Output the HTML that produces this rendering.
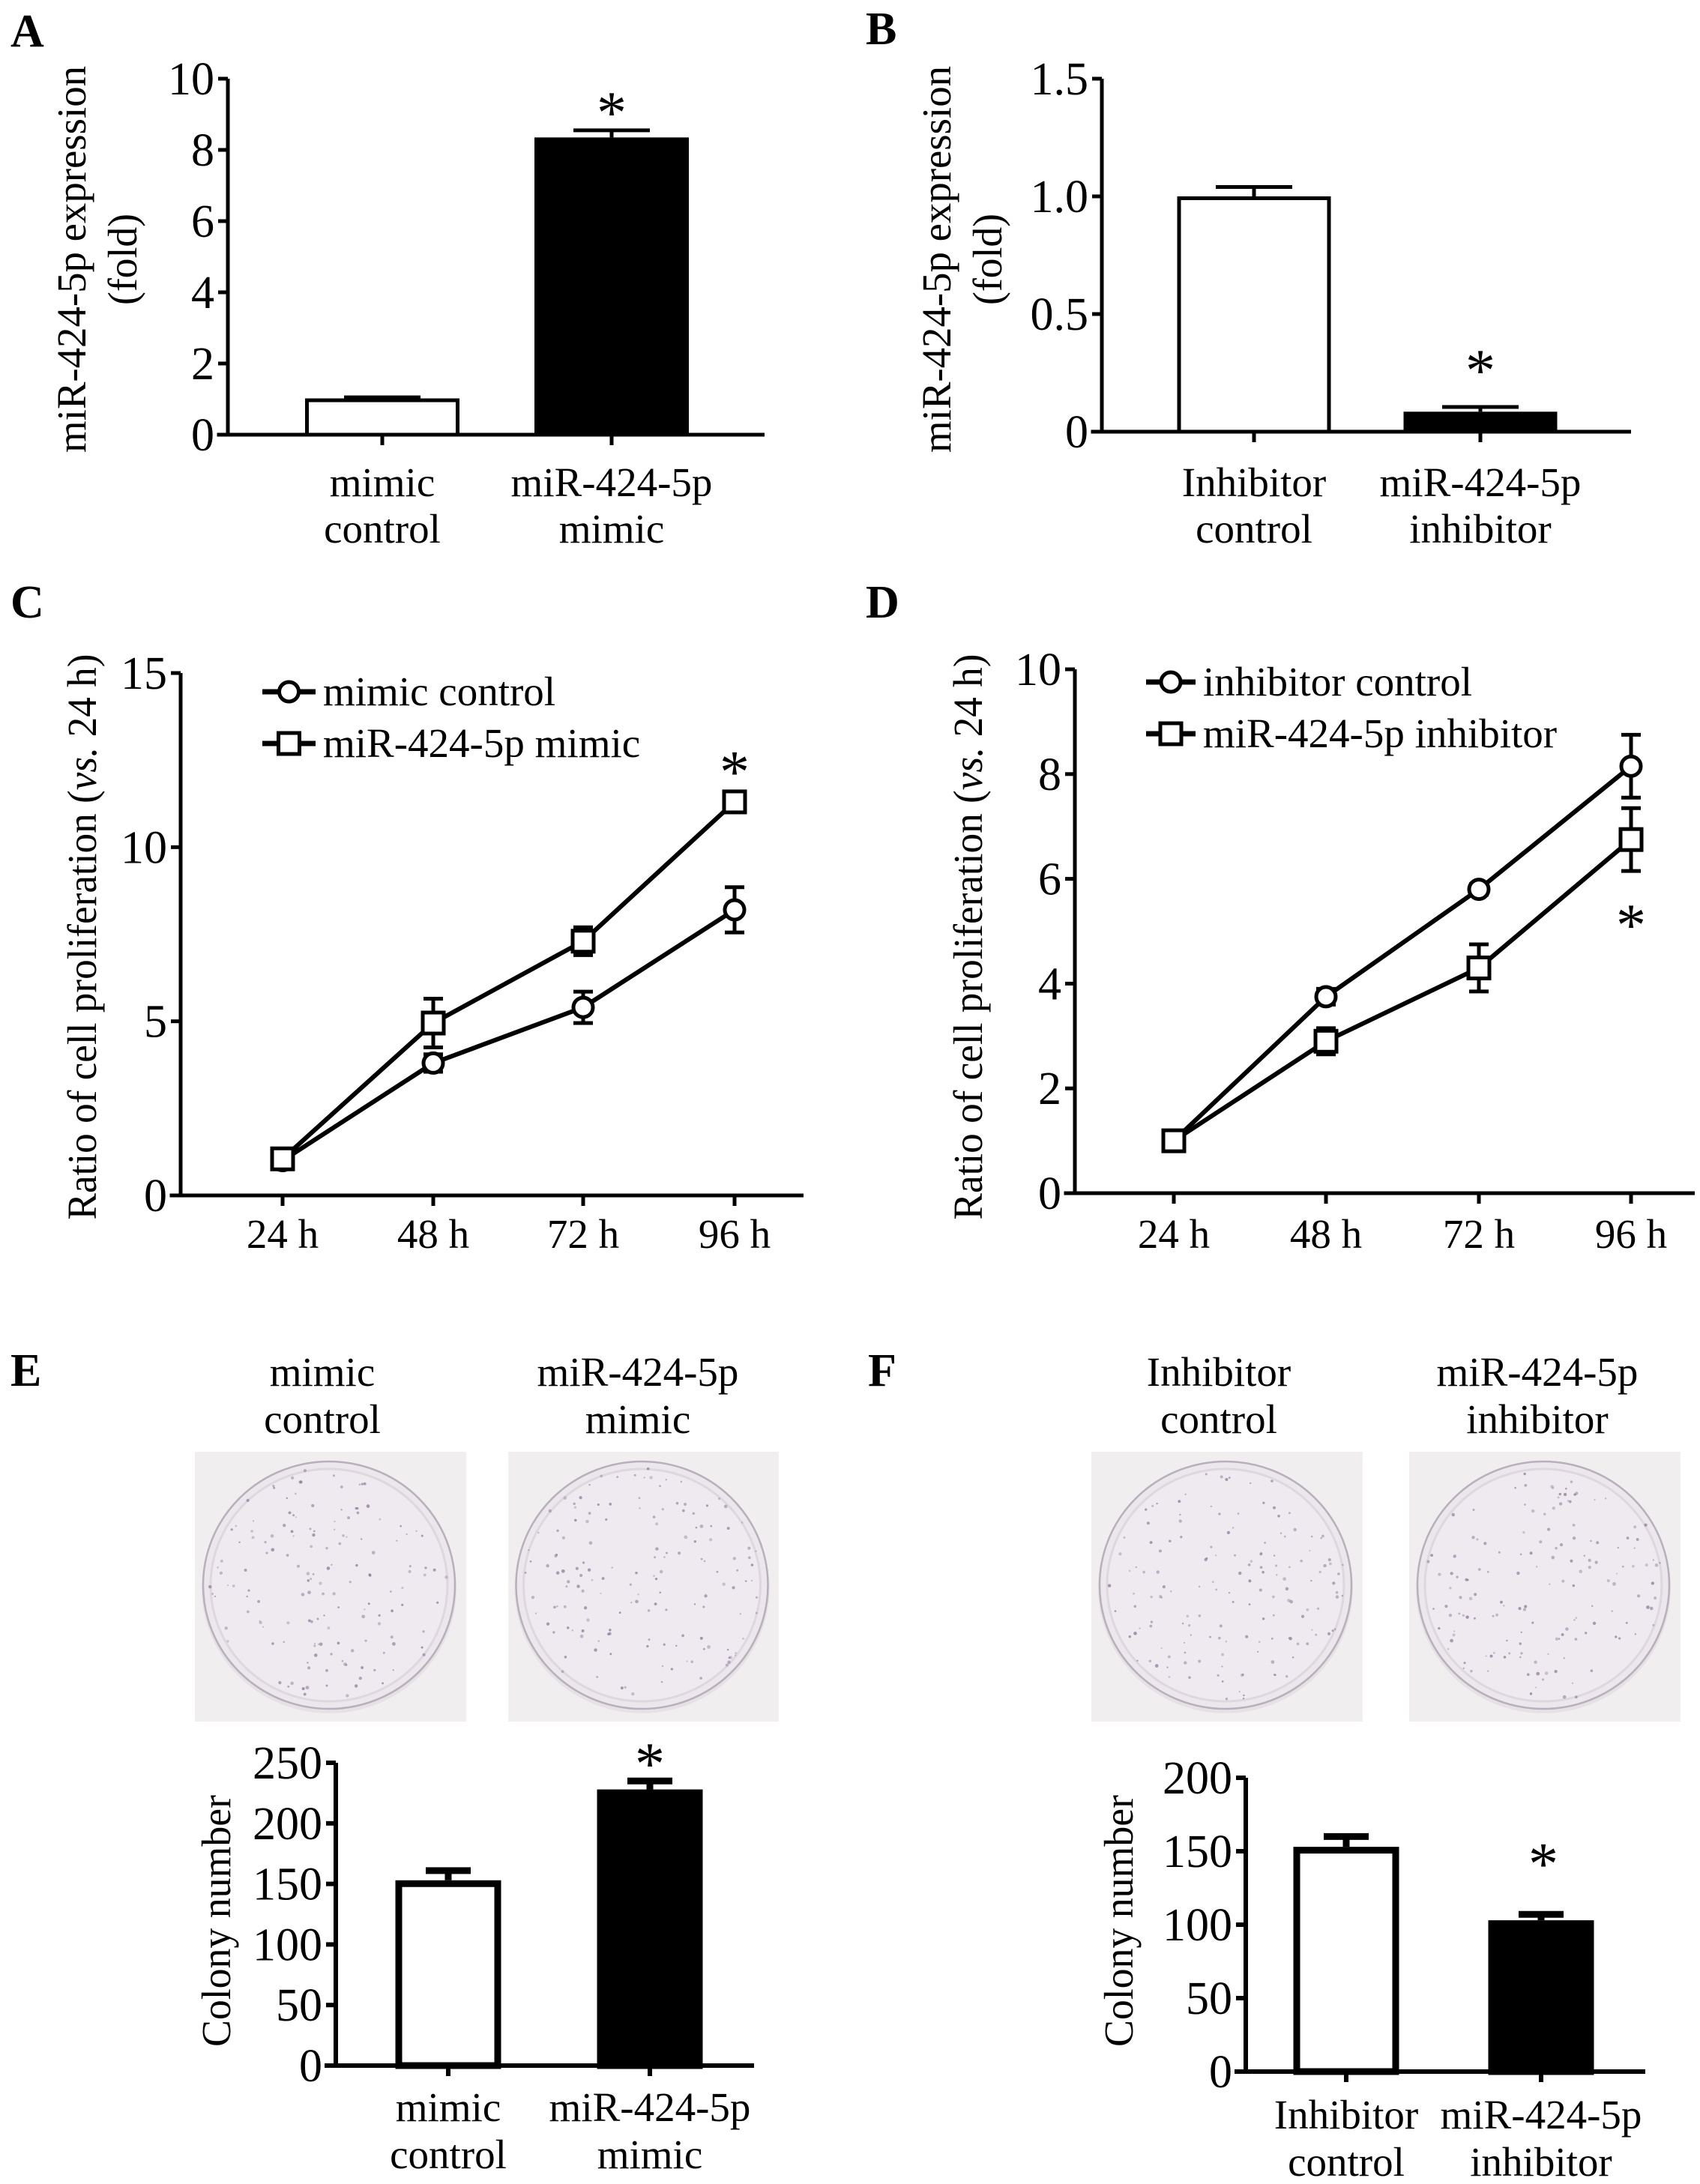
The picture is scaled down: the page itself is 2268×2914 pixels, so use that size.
<!DOCTYPE html>
<html><head><meta charset="utf-8"><style>
html,body{margin:0;padding:0;background:#fff;}
svg{display:block;}
text{font-family:"Liberation Serif",serif;fill:#000;}
</style></head><body>
<svg id="fig" width="2268" height="2914" viewBox="0 0 2268 2914" xmlns="http://www.w3.org/2000/svg"></svg>
<script>
// ---- data ----
const aCats = [["mimic","control"],["miR-424-5p","mimic"]];
const aVals = [1.02, 8.35];
const aErr = [0.03, 0.2];
const aTicks = [0,2,4,6,8,10];
const aTickLabels = ["0","2","4","6","8","10"];

const bCats = [["Inhibitor","control"],["miR-424-5p","inhibitor"]];
const bVals = [1.0, 0.085];
const bErr = [0.04, 0.02];
const bTicks = [0,0.5,1.0,1.5];
const bTickLabels = ["0","0.5","1.0","1.5"];

const cTimes = ["24 h","48 h","72 h","96 h"];
const cCtrl = [1.0, 3.8, 5.4, 8.2];
const cCtrlErr = [0.1, 0.25, 0.45, 0.65];
const cMimic = [1.05, 4.95, 7.3, 11.3];
const cMimicErr = [0.1, 0.7, 0.4, 0.2];
const cTicks = [0,5,10,15];
const cTickLabels = ["0","5","10","15"];

const dTimes = ["24 h","48 h","72 h","96 h"];
const dCtrl = [1.0, 3.75, 5.8, 8.15];
const dCtrlErr = [0.05, 0.15, 0.1, 0.6];
const dInh = [1.0, 2.9, 4.3, 6.75];
const dInhErr = [0.05, 0.25, 0.45, 0.6];
const dTicks = [0,2,4,6,8,10];
const dTickLabels = ["0","2","4","6","8","10"];

const eCats = [["mimic","control"],["miR-424-5p","mimic"]];
const eVals = [153, 228];
const eErr = [8, 7];
const eTicks = [0,50,100,150,200,250];
const eTickLabels = ["0","50","100","150","200","250"];

const fCats = [["Inhibitor","control"],["miR-424-5p","inhibitor"]];
const fVals = [153, 103];
const fErr = [7, 4];
const fTicks = [0,50,100,150,200];
const fTickLabels = ["0","50","100","150","200"];

// ---- helpers ----
const NS = "http://www.w3.org/2000/svg";
const svg = document.getElementById("fig");
function el(tag, attrs, parent){
  const e = document.createElementNS(NS, tag);
  for (const k in attrs) e.setAttribute(k, attrs[k]);
  (parent||svg).appendChild(e);
  return e;
}
function line(x1,y1,x2,y2,w,p){ return el("line",{x1:x1,y1:y1,x2:x2,y2:y2,stroke:"#000","stroke-width":w,"stroke-linecap":"butt"},p); }
function txt(x,y,s,size,anchor,p,weight){
  const t = el("text",{x:x,y:y,"font-size":size,"text-anchor":anchor||"start","font-weight":weight||"normal"},p);
  t.textContent = s;
  return t;
}
function panelLetter(x,y,s){
  const t = txt(x,y,s,62,"start",null,"bold");
  
  
}
function yTitle(x,cy,lines,size,gap){
  lines.forEach(function(l,i){
    const t = el("text",{transform:"translate("+(x+i*gap)+","+cy+") rotate(-90)","font-size":size,"text-anchor":"middle","textLength":l.len,"lengthAdjust":"spacingAndGlyphs"});
    
    
    if (l.html) t.innerHTML = l.html; else t.textContent = l.s;
  });
}
function star(x,cy,size){
  const t = txt(x,cy+size*0.55,"*",size,"middle",null,"normal");
  
  
}

const FS = 55;
const TFS = 62;

function yAxis(g, cfg, ticks, labels){
  const ys = v => cfg.y0 - v / cfg.max * (cfg.y0 - cfg.yTop);
  const ax = line(cfg.ax, cfg.yTop, cfg.ax, cfg.y0 + cfg.aw/2, cfg.aw, g);
  
  
  const xa = line(cfg.ax - cfg.aw/2 - 12, cfg.y0, cfg.xEnd, cfg.y0, cfg.aw, g);
  
  
  ticks.forEach(function(v,i){
    const y = ys(v);
    const tk = line(cfg.ax - 13, y, cfg.ax, y, cfg.aw, g);
    
    
    const t = txt(cfg.ax - 18, y + 21, labels[i], TFS, "end", g);
    
    
  });
  return ys;
}

function barChart(name, cfg, cats, vals, errs, ticks, labels){
  const g = el("g",{});
  
  
  const ys = yAxis(g, cfg, ticks, labels);
  vals.forEach(function(v,i){
    const cx = cfg.cx[i];
    const top = ys(v + errs[i]);
    const eb = line(cx, top, cx, ys(v), cfg.bw, g);
    
    
    const cap = line(cx - cfg.cap, top, cx + cfg.cap, top, cfg.bw, g);
    
    
    const r = el("rect",{x:cx - cfg.w/2 + cfg.bw/2, y:ys(v) + cfg.bw/2, width:cfg.w - cfg.bw, height:Math.max(0, cfg.y0 - ys(v) - cfg.bw/2), fill: i===0 ? "#fff" : "#000", stroke:"#000","stroke-width":cfg.bw},g);
    
    
    const tk = line(cx, cfg.y0, cx, cfg.y0 + 14, cfg.aw, g);
    
    
    cats[i].forEach(function(s,j){
      const t = txt(cx, cfg.lb[j], s, FS, "middle", g);
      
      
    });
  });
  return ys;
}

function lineChart(name, cfg, times, s1, e1, s2, e2, ticks, labels){
  const g = el("g",{});
  
  
  const ys = yAxis(g, cfg, ticks, labels);
  times.forEach(function(t,i){
    const tk = line(cfg.xs[i], cfg.y0, cfg.xs[i], cfg.y0 + 14, cfg.aw, g);
    
    
    const tl = txt(cfg.xs[i], cfg.lb, t, FS, "middle", g);
    
    
  });
  [[s1,e1,"circle"],[s2,e2,"square"]].forEach(function(sr){
    const pts = sr[0].map((v,i)=> cfg.xs[i] + "," + ys(v)).join(" ");
    const pl = el("polyline",{points:pts, fill:"none", stroke:"#000","stroke-width":6,"stroke-linejoin":"round"},g);
    
    
  });
  [[s1,e1,"circle"],[s2,e2,"square"]].forEach(function(sr){
    sr[0].forEach(function(v,i){
      const x = cfg.xs[i], y = ys(v), e = sr[1][i];
      const eb = line(x, ys(v+e), x, ys(v-e), 5, g);
      
      
      const c1 = line(x-13, ys(v+e), x+13, ys(v+e), 5, g);
      
      
      const c2 = line(x-13, ys(v-e), x+13, ys(v-e), 5, g);
      
      
      let m;
      if (sr[2]==="circle") m = el("circle",{cx:x, cy:y, r:13, fill:"#fff", stroke:"#000","stroke-width":5},g);
      else m = el("rect",{x:x-14, y:y-14, width:28, height:28, fill:"#fff", stroke:"#000","stroke-width":5},g);
      
      
    });
  });
  return ys;
}

function legend(x1, x2, y, kind, label){
  const g = el("g",{});
  
  
  line(x1, y, x2, y, 7, g);
  const cx = (x1+x2)/2;
  if (kind==="circle") el("circle",{cx:cx, cy:y, r:13, fill:"#fff", stroke:"#000","stroke-width":5},g);
  else el("rect",{x:cx-14, y:y-14, width:28, height:28, fill:"#fff", stroke:"#000","stroke-width":5},g);
  txt(x2 + 10, y + 18, label, FS, "start", g);
}

function dish(x, y, w, h, seed, name){
  const g = el("g",{});
  
  
  el("rect",{x:x, y:y, width:w, height:h, fill:"#f0eeef"},g);
  const cx = x + w/2 - 2, cy = y + h/2 - 2, rx = 168, ry = 165;
  el("ellipse",{cx:cx, cy:cy+4, rx:rx+2, ry:ry+2, fill:"#e6e1e5"},g);
  el("ellipse",{cx:cx, cy:cy, rx:rx, ry:ry, fill:"#ece7ec", stroke:"#b8b0bb","stroke-width":2.5},g);
  el("ellipse",{cx:cx, cy:cy, rx:rx-10, ry:ry-10, fill:"#eeeaef", stroke:"#ddd7de","stroke-width":3},g);
  let s = seed;
  function rnd(){ s = (s*1103515245 + 12345) % 2147483648; return s/2147483648; }
  for (let i=0;i<150;i++){
    const a = rnd()*Math.PI*2, r = Math.sqrt(rnd())*0.95;
    el("circle",{cx:cx + Math.cos(a)*r*rx, cy:cy + Math.sin(a)*r*ry, r:1.0 + rnd()*1.4, fill:"#857896", opacity:0.35 + rnd()*0.4},g);
  }
}

// ---- Panel A ----
panelLetter(14, 62, "A");
const ysA = barChart("chart-a", {ax:304, y0:580, yTop:105, max:10, xEnd:1020, aw:5, cx:[510,816], w:206, bw:5, cap:51, lb:[662,724]}, aCats, aVals, aErr, aTicks, aTickLabels);
yTitle(114, 346, [{s:"miR-424-5p expression", len:516},{s:"(fold)", len:122}], 55, 68);
star(816, ysA(aVals[1]+aErr[1]) - 41, 80);

// ---- Panel B ----
panelLetter(1155, 59, "B");
const ysB = barChart("chart-b", {ax:1470, y0:576, yTop:105, max:1.5, xEnd:2176, aw:5, cx:[1673,1975], w:205, bw:5, cap:51, lb:[662,724]}, bCats, bVals, bErr, bTicks, bTickLabels);
yTitle(1268, 346, [{s:"miR-424-5p expression", len:516},{s:"(fold)", len:122}], 55, 68);
star(1975, ysB(bVals[1]+bErr[1]) - 66, 80);

// ---- Panel C ----
panelLetter(14, 824, "C");
const ysC = lineChart("chart-c", {ax:241, y0:1595, yTop:898, max:15, xEnd:1072, aw:5, xs:[377,578,778,980], lb:1665}, cTimes, cCtrl, cCtrlErr, cMimic, cMimicErr, cTicks, cTickLabels);
yTitle(128, 1250, [{html:'Ratio of cell proliferation (<tspan font-style="italic">vs.</tspan> 24 h)', len:755}], 55, 0);
legend(350, 421, 923, "circle", "mimic control");
legend(350, 421, 992, "square", "miR-424-5p mimic");
star(980, ysC(cMimic[3]+cMimicErr[3]) - 48, 80);

// ---- Panel D ----
panelLetter(1155, 824, "D");
const ysD = lineChart("chart-d", {ax:1434, y0:1592, yTop:893, max:10, xEnd:2261, aw:5, xs:[1566,1769,1973,2176], lb:1665}, dTimes, dCtrl, dCtrlErr, dInh, dInhErr, dTicks, dTickLabels);
yTitle(1310, 1250, [{html:'Ratio of cell proliferation (<tspan font-style="italic">vs.</tspan> 24 h)', len:755}], 55, 0);
legend(1529, 1595, 910, "circle", "inhibitor control");
legend(1529, 1595, 979, "square", "miR-424-5p inhibitor");
star(2176, ysD(dInh[3]-dInhErr[3]) + 55, 80);

// ---- Panel E ----
panelLetter(14, 1849, "E");
[["mimic","control",430],["miR-424-5p","mimic",851]].forEach(function(c){
  const t1 = txt(c[2], 1849, c[0], FS, "middle");  
  const t2 = txt(c[2], 1912, c[1], FS, "middle");  
});
dish(260, 1937, 362, 360, 12345, "dish-photo-mimic-control");
dish(678, 1937, 361, 360, 67891, "dish-photo-mimic");
const ysE = barChart("chart-e", {ax:448, y0:2756, yTop:2352, max:250, xEnd:1006, aw:6, cx:[598,867], w:141, bw:9, cap:30, lb:[2830,2893]}, eCats, eVals, eErr, eTicks, eTickLabels);
yTitle(307, 2563, [{s:"Colony number", len:336}], 55, 0);
star(867, ysE(eVals[1]+eErr[1]) - 40, 80);

// ---- Panel F ----
panelLetter(1158, 1849, "F");
[["Inhibitor","control",1626],["miR-424-5p","inhibitor",2051]].forEach(function(c){
  const t1 = txt(c[2], 1849, c[0], FS, "middle");  
  const t2 = txt(c[2], 1912, c[1], FS, "middle");  
});
dish(1456, 1937, 362, 360, 24680, "dish-photo-inhibitor-control");
dish(1880, 1937, 362, 360, 13579, "dish-photo-inhibitor");
const ysF = barChart("chart-f", {ax:1662, y0:2764, yTop:2372, max:200, xEnd:2195, aw:6, cx:[1796,2056], w:141, bw:9, cap:30, lb:[2840,2903]}, fCats, fVals, fErr, fTicks, fTickLabels);
yTitle(1511, 2563, [{s:"Colony number", len:336}], 55, 0);
star(2059, ysF(fVals[1]+fErr[1]) - 85, 80);
</script>
</body></html>
